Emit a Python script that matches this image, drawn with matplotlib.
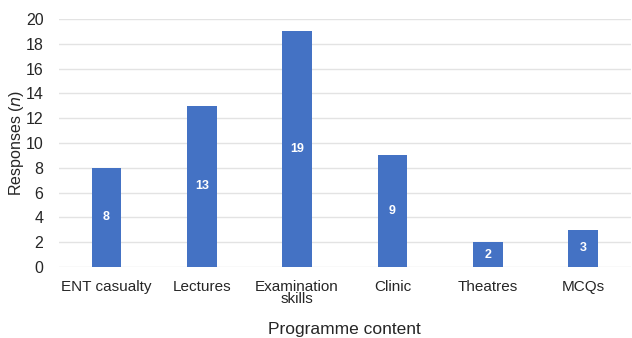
import matplotlib.pyplot as plt

categories = ["ENT casualty", "Lectures", "Examination\nskills", "Clinic", "Theatres", "MCQs"]
responses = [8, 13, 19, 9, 2, 3]
y_ticks = [0, 2, 4, 6, 8, 10, 12, 14, 16, 18, 20]

plt.rcParams["font.family"] = ["Liberation Sans", "DejaVu Sans"]

fig = plt.figure(figsize=(6.32, 3.38), dpi=100)
ax = fig.add_axes([0.093, 0.210, 0.905, 0.734])

x = list(range(len(categories)))
bars = ax.bar(x, responses, width=0.31, color="#4472C4", zorder=3)

# labels au milieu des barres
for b, v in zip(bars, responses):
    ax.text(b.get_x() + b.get_width() / 2, v / 2, str(v),
            ha="center", va="center", color="white",
            fontsize=9, fontweight="bold", zorder=4)

ax.set_xlim(-0.5, len(categories) - 0.5)
ax.set_ylim(0, 20)
ax.set_yticks(y_ticks)
ax.set_xticks(x)
ax.set_xticklabels(categories, fontsize=11, color="#262626", linespacing=0.9)
ax.tick_params(axis="y", labelsize=11.5, labelcolor="#262626", length=0, pad=11)
ax.tick_params(axis="x", length=0, pad=9)

ax.grid(axis="y", color="#e3e3e3", linewidth=1.0, zorder=0)
for s in ["top", "right", "left", "bottom"]:
    ax.spines[s].set_visible(False)

ax.set_ylabel("Responses ($\\it{n}$)", fontsize=11.5, color="#262626", labelpad=0)
ax.set_xlabel("Programme content", fontsize=12.5, color="#262626", labelpad=11)

plt.savefig("out.png", dpi=100)
